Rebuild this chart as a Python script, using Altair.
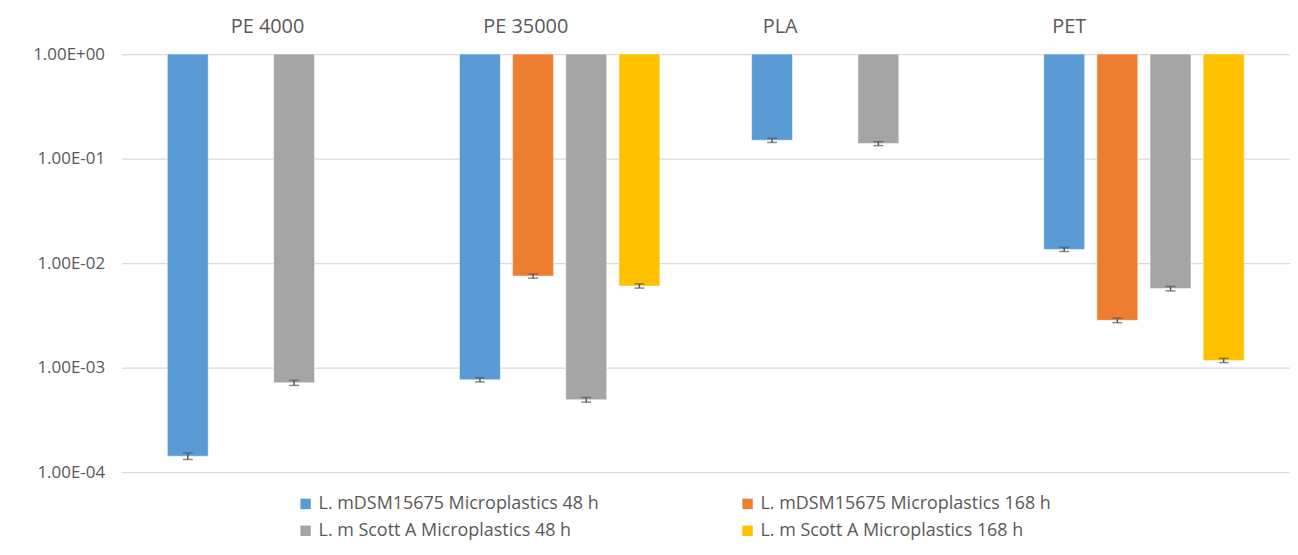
import altair as alt
import pandas as pd

categories = ["PE 4000", "PE 35000", "PLA", "PET"]
series = [
    "L. mDSM15675 Microplastics 48 h",
    "L. mDSM15675 Microplastics 168 h",
    "L. m Scott A Microplastics 48 h",
    "L. m Scott A Microplastics 168 h",
]
colors = ["#5B9BD5", "#ED7D31", "#A5A5A5", "#FFC000"]

# values per series (None = no bar)
dsm_48 = [1.42e-4, 7.64e-4, 0.1496, 0.0135]
dsm_168 = [None, 7.52e-3, None, 2.83e-3]
scott_48 = [7.15e-4, 4.92e-4, 0.139, 5.70e-3]
scott_168 = [None, 6.04e-3, None, 1.17e-3]

# error (+/-) per series
dsm_48_err = [1.0e-5, 3.5e-5, 7.0e-3, 6.0e-4]
dsm_168_err = [None, 3.5e-4, None, 1.4e-4]
scott_48_err = [4.0e-5, 2.5e-5, 6.0e-3, 2.8e-4]
scott_168_err = [None, 2.8e-4, None, 5.5e-5]

y_ticks = [1e-4, 1e-3, 1e-2, 1e-1, 1]

rows = []
for s, vals, errs in zip(series, [dsm_48, dsm_168, scott_48, scott_168],
                         [dsm_48_err, dsm_168_err, scott_48_err, scott_168_err]):
    for c, v, e in zip(categories, vals, errs):
        if v is None:
            continue
        rows.append({"category": c, "series": s, "value": v, "lo": v - e, "hi": v + e})
df = pd.DataFrame(rows)

FONT = "Open Sans"
TXT = "#595959"

x_enc = alt.X(
    "category:N",
    sort=categories,
    scale=alt.Scale(domain=categories, paddingInner=0.314, paddingOuter=0.157),
    axis=alt.Axis(
        orient="top", title=None, domain=False, ticks=False, grid=False,
        labelAngle=0, labelFontSize=20, labelPadding=18, labelColor=TXT, labelFont=FONT,
        labelOffset={
            "condition": [
                {"test": "datum.value == 'PE 35000'", "value": -34},
                {"test": "datum.value == 'PLA'", "value": -72},
                {"test": "datum.value == 'PET'", "value": -75},
            ],
            "value": 0,
        },
    ),
)
xoff_enc = alt.XOffset(
    "series:N",
    sort=series,
    scale=alt.Scale(domain=series, paddingInner=0.23, paddingOuter=0),
)
y_scale = alt.Scale(type="log", domain=[1e-4, 1])

base = alt.Chart(df)

bars = base.mark_bar(stroke="#ffffff", strokeOpacity=0.5, strokeWidth=1).encode(
    x=x_enc,
    xOffset=xoff_enc,
    y=alt.Y(
        "value:Q",
        scale=y_scale,
        stack=None,
        axis=alt.Axis(
            values=y_ticks, title=None, domain=False, ticks=False,
            grid=True, gridColor="#d9d9d9", gridWidth=1.3,
            labelFontSize=17, labelColor=TXT, labelFont=FONT, labelPadding=17,
            labelExpr="'1.00E' + (log(datum.value)/LN10 > -0.5 ? '+' : '-') + '0' + abs(round(log(datum.value)/LN10))",
        ),
    ),
    y2=alt.Y2(datum=1),
    color=alt.Color(
        "series:N",
        scale=alt.Scale(domain=series, range=colors),
        legend=alt.Legend(
            title=None, orient="none", direction="horizontal", legendX=176, legendY=443,
            columns=2, columnPadding=140, rowPadding=9, symbolType="square",
            symbolSize=110, symbolStrokeWidth=0, labelFontSize=18, labelColor=TXT,
            labelFont=FONT, labelLimit=0, labelOffset=4,
        ),
    ),
)

err_rule = base.mark_rule(color="#595959", strokeWidth=1.5).encode(
    x=x_enc, xOffset=xoff_enc, y=alt.Y("lo:Q", scale=y_scale), y2="hi:Q"
)
cap_lo = base.mark_tick(color="#595959", size=10, thickness=1.5).encode(
    x=x_enc, xOffset=xoff_enc, y=alt.Y("lo:Q", scale=y_scale)
)
cap_hi = base.mark_tick(color="#595959", size=10, thickness=1.5).encode(
    x=x_enc, xOffset=xoff_enc, y=alt.Y("hi:Q", scale=y_scale)
)

chart = (
    alt.layer(bars, err_rule, cap_lo, cap_hi)
    .properties(
        width=1174, height=420,
        autosize=alt.AutoSizeParams(type="none"),
        padding={"left": 114, "top": 45, "right": 0, "bottom": 70},
    )
    .configure(font=FONT)
    .configure_view(stroke=None)
)

chart.save("out.html", embed_options={"renderer": "svg", "actions": False})
